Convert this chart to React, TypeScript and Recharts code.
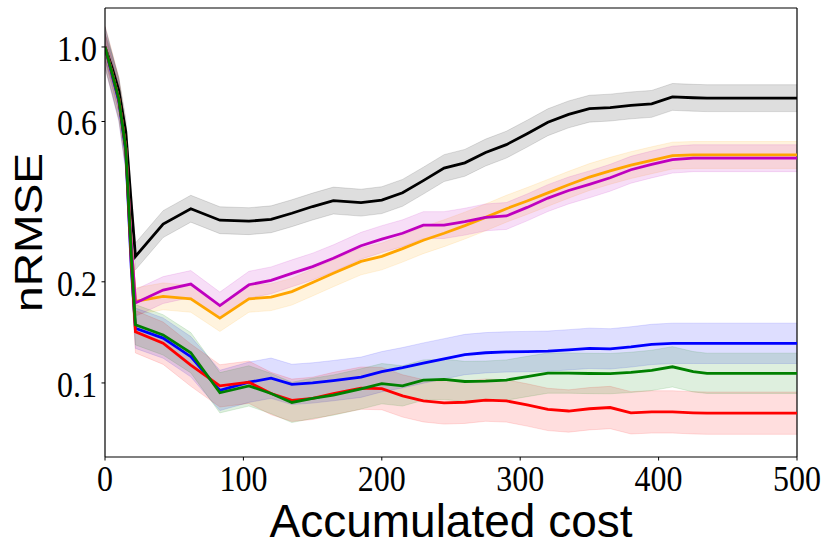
import { Area, ComposedChart, Label, Line, ReferenceLine, XAxis, YAxis } from "recharts"

// accumulated cost sample points
const costs = [0, 5, 10, 15, 19, 22, 42, 62, 83, 104, 120, 135, 150, 165, 185, 200, 215, 230, 245, 260, 275, 290, 305, 320, 335, 350, 365, 380, 395, 410, 425, 435, 500]

// mean nRMSE per method
const black = [1.0, 0.87, 0.74, 0.56, 0.34, 0.238, 0.297, 0.33, 0.305, 0.303, 0.307, 0.32, 0.335, 0.349, 0.344, 0.35, 0.368, 0.4, 0.436, 0.452, 0.485, 0.512, 0.552, 0.597, 0.63, 0.655, 0.66, 0.67, 0.677, 0.71, 0.706, 0.704, 0.704]
const orange = [1.0, 0.84, 0.7, 0.5, 0.26, 0.175, 0.181, 0.178, 0.156, 0.178, 0.18, 0.187, 0.199, 0.212, 0.23, 0.238, 0.251, 0.266, 0.279, 0.294, 0.311, 0.33, 0.348, 0.368, 0.389, 0.41, 0.428, 0.445, 0.46, 0.475, 0.477, 0.477, 0.477]
const magenta = [1.0, 0.84, 0.7, 0.5, 0.26, 0.173, 0.189, 0.197, 0.17, 0.196, 0.202, 0.212, 0.222, 0.235, 0.256, 0.268, 0.279, 0.295, 0.295, 0.302, 0.311, 0.314, 0.333, 0.355, 0.374, 0.39, 0.408, 0.431, 0.447, 0.462, 0.4665, 0.4665, 0.4665]
const blue = [1.0, 0.83, 0.69, 0.49, 0.22, 0.1455, 0.136, 0.1197, 0.095, 0.1005, 0.1033, 0.099, 0.1, 0.1016, 0.104, 0.108, 0.111, 0.1146, 0.118, 0.1215, 0.123, 0.1237, 0.124, 0.1243, 0.1255, 0.1268, 0.1263, 0.128, 0.1302, 0.1312, 0.1312, 0.1312, 0.1312]
const green = [1.0, 0.84, 0.7, 0.5, 0.24, 0.149, 0.139, 0.123, 0.0935, 0.098, 0.093, 0.0875, 0.09, 0.092, 0.096, 0.0995, 0.098, 0.102, 0.1025, 0.101, 0.1012, 0.102, 0.1045, 0.107, 0.107, 0.1067, 0.1066, 0.1075, 0.109, 0.1117, 0.108, 0.1068, 0.1068]
const red = [1.0, 0.84, 0.7, 0.5, 0.23, 0.142, 0.1313, 0.113, 0.098, 0.1005, 0.093, 0.0888, 0.09, 0.093, 0.0965, 0.0962, 0.0915, 0.0885, 0.0872, 0.0876, 0.0889, 0.0884, 0.086, 0.0834, 0.0825, 0.0838, 0.0845, 0.0815, 0.082, 0.082, 0.0815, 0.0813, 0.0813]

// half width of the shaded band, in decades
const bandWidth = { black: 0.04, orange: 0.04, magenta: 0.04, blue: 0.06, green: 0.06, red: 0.063 }

const xTicks = [0, 100, 200, 300, 400, 500]
const yTicks = [0.1, 0.2, 0.6, 1.0]
const Y_MIN = 0.0602
const Y_MAX = 1.306

const series = [
  { key: "black", values: black, color: "#000000" },
  { key: "orange", values: orange, color: "#FFA500" },
  { key: "magenta", values: magenta, color: "#BF00BF" },
  { key: "blue", values: blue, color: "#0000FF" },
  { key: "red", values: red, color: "#FF0000" },
  { key: "green", values: green, color: "#008000" },
]

const data = costs.map((x, i) => {
  const row: Record<string, any> = { x }
  series.forEach((s) => {
    const v = s.values[i]
    const f = Math.pow(10, bandWidth[s.key as keyof typeof bandWidth])
    row[s.key] = v
    row[s.key + "Band"] = [v / f, v * f]
  })
  return row
})

// the tick digits in the original are a bit taller than wide
const TICK_STRETCH = 1.12
const tickFont = { fontFamily: "Liberation Serif", fontSize: 32, fill: "#000" }

const XTick = ({ x, y, payload }: any) => (
  <g transform={`translate(${x},${y}) scale(1,${TICK_STRETCH})`}>
    <text textAnchor="middle" dy="0.71em" style={tickFont}>
      {payload.value}
    </text>
  </g>
)

const YTick = ({ x, y, payload }: any) => (
  <g transform={`translate(${x},${y}) scale(1,${TICK_STRETCH})`}>
    <text textAnchor="end" dy={12.3} style={tickFont}>
      {Number(payload.value).toFixed(1)}
    </text>
  </g>
)

export default function App() {
  return (
    <div style={{ position: "absolute", left: 0, top: 0, background: "#fff" }}>
      <ComposedChart width={830} height={553} data={data} margin={{ top: 8, right: 33, left: 0, bottom: 0 }}>
        <XAxis
          dataKey="x"
          type="number"
          domain={[0, 500]}
          ticks={xTicks}
          height={96}
          tick={<XTick />}
          tickSize={3.5}
          tickMargin={4.8}
          axisLine={{ stroke: "#000", strokeWidth: 1.2 }}
          tickLine={{ stroke: "#000" }}
          allowDataOverflow
        >
          <Label
            value="Accumulated cost"
            position="insideBottom"
            offset={16}
            style={{ fontFamily: "Liberation Sans", fontSize: 46, fill: "#000" }}
          />
        </XAxis>
        <YAxis
          type="number"
          scale="log"
          domain={[Y_MIN, Y_MAX]}
          ticks={yTicks}
          width={105}
          tick={<YTick />}
          tickSize={3.5}
          tickMargin={4.5}
          axisLine={{ stroke: "#000", strokeWidth: 1.2 }}
          tickLine={{ stroke: "#000" }}
          allowDataOverflow
        >
          <Label
            content={(props: any) => {
              const vb = props.viewBox || {}
              const cy = (vb.y ?? 8) + (vb.height ?? 449) / 2
              return (
                <text
                  x={42}
                  y={cy}
                  transform={`rotate(-90 42 ${cy})`}
                  textAnchor="middle"
                  textLength={159}
                  lengthAdjust="spacingAndGlyphs"
                  style={{ fontFamily: "Liberation Sans", fontSize: 38, fill: "#000" }}
                >
                  nRMSE
                </text>
              )
            }}
          />
        </YAxis>
        <ReferenceLine y={Y_MAX} stroke="#000" strokeWidth={1.2} />
        <ReferenceLine x={500} stroke="#000" strokeWidth={1.2} />
        {series.map((s) => (
          <Area
            key={s.key + "Band"}
            dataKey={s.key + "Band"}
            type="linear"
            stroke={s.color}
            strokeOpacity={0.12}
            strokeWidth={1}
            fill={s.color}
            fillOpacity={0.13}
            isAnimationActive={false}
            activeDot={false}
            dot={false}
          />
        ))}
        {series.map((s) => (
          <Line
            key={s.key}
            dataKey={s.key}
            type="linear"
            stroke={s.color}
            strokeWidth={2.8}
            dot={false}
            activeDot={false}
            isAnimationActive={false}
          />
        ))}
      </ComposedChart>
    </div>
  )
}
